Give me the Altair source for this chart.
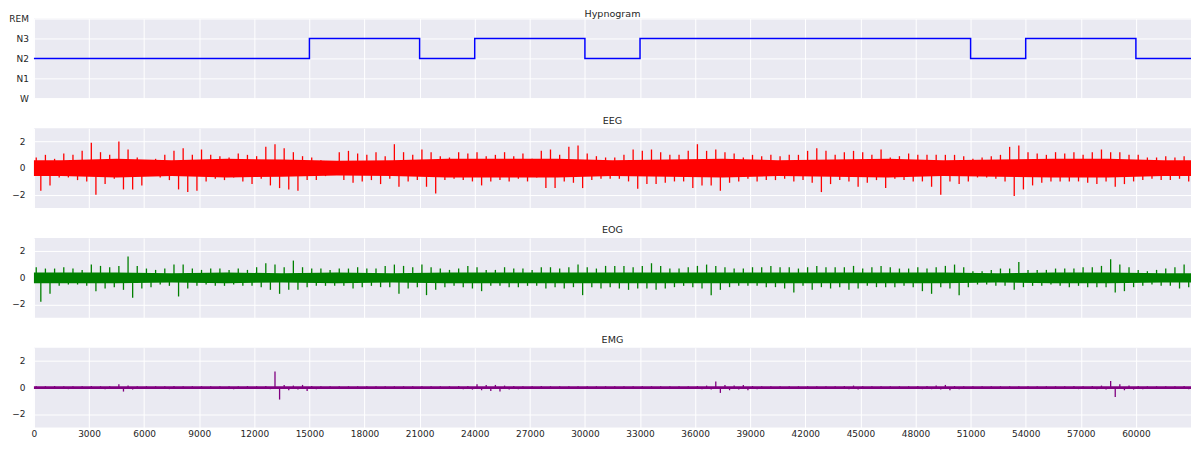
import altair as alt
import pandas as pd

STAGES = ["W", "N1", "N2", "N3", "REM"]
HYPNOGRAM = ["N2", "N2", "N2", "N2", "N2", "N3", "N3", "N2", "N3", "N3", "N2",
             "N3", "N3", "N3", "N3", "N3", "N3", "N2", "N3", "N3", "N2"]
EPOCH = 3000
BIN = 500
X_TICKS = [0, 3000, 6000, 9000, 12000, 15000, 18000, 21000, 24000, 27000, 30000,
           33000, 36000, 39000, 42000, 45000, 48000, 51000, 54000, 57000, 60000]
SIG_TICKS = [-2, 0, 2]

# per-500-sample peak (hi) / trough (lo)
EEG_HI = [0.8, 1.0, 0.7, 1.1, 1.0, 1.3, 1.9, 1.2, 1.0, 2.0,
          1.4, 0.8, 0.6, 0.7, 1.0, 1.3, 1.5, 1.0, 1.4, 1.0,
          0.9, 0.8, 1.1, 1.0, 0.9, 1.6, 1.8, 1.5, 1.2, 0.9,
          0.8, 0.6, 0.5, 1.2, 1.3, 1.1, 1.0, 1.2, 0.9, 1.8,
          1.2, 1.0, 1.4, 1.2, 0.9, 0.8, 1.2, 1.1, 1.2, 0.9,
          1.0, 1.2, 0.9, 1.1, 0.7, 1.3, 1.4, 1.0, 1.6, 1.7,
          1.1, 0.9, 0.8, 0.8, 1.0, 1.4, 1.3, 1.4, 1.2, 1.0,
          1.0, 1.3, 1.8, 1.3, 1.4, 1.2, 1.1, 0.8, 1.0, 0.9,
          1.0, 0.9, 1.0, 1.0, 1.3, 1.5, 1.3, 1.0, 1.2, 1.3,
          1.2, 1.0, 1.4, 0.8, 0.9, 1.1, 1.0, 1.0, 1.0, 1.0,
          1.0, 0.9, 0.7, 0.8, 0.9, 1.0, 1.6, 1.7, 1.2, 1.1,
          1.0, 1.2, 1.1, 1.2, 1.0, 1.2, 1.4, 1.2, 1.2, 1.0,
          1.0, 0.8, 0.8, 0.9, 0.8, 0.9]
EEG_LO = [-1.7, -1.3, -0.7, -0.7, -0.9, -1.0, -2.0, -1.2, -0.8, -1.6,
          -1.6, -1.3, -0.6, -0.7, -0.9, -1.6, -1.8, -1.7, -1.0, -0.8,
          -0.9, -0.7, -1.0, -1.2, -0.8, -1.3, -1.5, -1.6, -1.7, -0.9,
          -0.9, -0.6, -0.5, -0.9, -1.1, -1.0, -0.9, -1.2, -0.8, -1.4,
          -1.0, -0.9, -1.4, -1.9, -0.9, -0.8, -0.9, -1.0, -1.3, -1.0,
          -0.9, -1.0, -0.8, -1.0, -0.7, -1.5, -1.5, -1.0, -1.1, -1.5,
          -0.9, -0.8, -0.8, -0.8, -1.0, -1.55, -1.2, -1.2, -1.1, -1.0,
          -1.0, -1.5, -1.3, -1.3, -1.7, -1.1, -1.0, -0.8, -1.0, -0.9,
          -0.9, -0.8, -1.0, -0.9, -1.1, -1.8, -1.2, -0.9, -1.0, -1.4,
          -1.1, -0.9, -1.5, -0.8, -0.9, -1.0, -1.0, -1.4, -2.0, -1.0,
          -1.2, -1.0, -0.7, -0.7, -0.8, -1.0, -2.1, -1.6, -1.3, -1.1,
          -1.0, -1.0, -1.0, -1.0, -1.1, -1.2, -1.0, -1.4, -1.2, -1.0,
          -0.9, -0.8, -0.9, -0.9, -0.8, -1.0]
EEG_CORE = [0.6, 0.7, 0.6, 0.7, 0.65, 0.55, 0.6, 0.7, 0.7, 0.7, 0.6,
            0.65, 0.7, 0.6, 0.65, 0.7, 0.6, 0.65, 0.7, 0.7, 0.6]

EOG_HI = [0.8, 0.7, 0.7, 0.8, 0.7, 0.6, 1.0, 0.9, 0.8, 0.9,
          1.6, 0.9, 0.7, 0.6, 0.7, 1.0, 1.0, 0.7, 0.6, 0.7,
          0.7, 0.6, 0.7, 0.6, 0.8, 1.1, 1.0, 0.8, 1.3, 0.8,
          0.7, 0.7, 0.6, 0.7, 0.7, 0.8, 0.7, 0.7, 0.9, 1.0,
          0.9, 0.8, 1.0, 0.8, 0.7, 0.6, 0.7, 0.9, 0.8, 0.6,
          0.6, 0.8, 0.7, 0.7, 0.6, 0.8, 0.8, 0.7, 0.8, 1.0,
          0.8, 0.7, 0.9, 0.9, 0.9, 0.8, 0.9, 1.1, 0.9, 0.7,
          0.7, 0.8, 0.9, 1.0, 0.9, 0.8, 0.7, 0.7, 0.8, 0.8,
          0.9, 0.8, 0.8, 0.7, 0.8, 0.9, 0.8, 0.8, 0.8, 0.9,
          0.7, 0.8, 0.9, 0.8, 0.7, 0.7, 0.8, 0.7, 0.8, 0.9,
          1.0, 0.8, 0.5, 0.5, 0.6, 0.7, 0.7, 1.2, 0.6, 0.6,
          0.6, 0.7, 0.7, 0.7, 0.8, 0.8, 0.9, 1.4, 1.0, 0.8,
          0.6, 0.5, 0.6, 0.7, 0.8, 1.0]
EOG_LO = [-1.8, -1.2, -0.6, -0.5, -0.5, -0.6, -1.0, -0.8, -0.7, -0.9,
          -1.5, -0.8, -0.7, -0.5, -0.6, -1.4, -0.8, -0.6, -0.5, -0.6,
          -0.6, -0.5, -0.6, -0.6, -0.7, -0.9, -1.2, -0.9, -0.9, -0.7,
          -0.6, -0.6, -0.6, -0.6, -0.8, -0.7, -0.6, -0.7, -0.7, -1.2,
          -0.8, -0.7, -1.3, -0.9, -0.7, -0.6, -0.7, -0.8, -1.0, -0.6,
          -0.6, -0.7, -0.7, -0.6, -0.6, -0.8, -0.7, -0.8, -0.7, -1.3,
          -0.7, -0.8, -0.7, -0.8, -0.9, -0.8, -0.8, -0.9, -0.8, -0.7,
          -0.6, -0.7, -0.8, -1.3, -0.9, -0.7, -0.6, -0.6, -0.6, -0.7,
          -0.7, -0.8, -1.1, -0.6, -0.9, -0.7, -0.8, -0.7, -0.9, -0.8,
          -0.6, -0.7, -0.7, -0.7, -0.6, -0.7, -1.0, -1.2, -0.7, -0.8,
          -1.3, -0.7, -0.5, -0.5, -0.6, -0.6, -0.9, -0.7, -0.6, -0.6,
          -0.5, -0.6, -0.7, -0.6, -0.7, -0.7, -0.7, -1.1, -1.0, -0.7,
          -0.6, -0.5, -0.6, -0.6, -0.8, -0.7]
EOG_CORE = [0.4, 0.4, 0.35, 0.4, 0.35, 0.4, 0.35, 0.4, 0.4, 0.4, 0.4,
            0.4, 0.4, 0.4, 0.4, 0.4, 0.4, 0.35, 0.4, 0.4, 0.35]

EMG_HI = [0.1, 0.1, 0.12, 0.1, 0.1, 0.1, 0.12, 0.1, 0.1, 0.25,
          0.15, 0.1, 0.1, 0.1, 0.1, 0.12, 0.1, 0.1, 0.1, 0.1,
          0.1, 0.1, 0.1, 0.12, 0.1, 0.12, 1.2, 0.2, 0.15, 0.2,
          0.12, 0.1, 0.1, 0.1, 0.1, 0.1, 0.1, 0.1, 0.1, 0.1,
          0.1, 0.1, 0.1, 0.1, 0.1, 0.1, 0.12, 0.12, 0.25, 0.2,
          0.2, 0.15, 0.12, 0.1, 0.1, 0.12, 0.1, 0.1, 0.1, 0.1,
          0.1, 0.1, 0.1, 0.1, 0.1, 0.1, 0.1, 0.1, 0.1, 0.1,
          0.1, 0.1, 0.12, 0.15, 0.45, 0.2, 0.15, 0.2, 0.12, 0.1,
          0.1, 0.1, 0.1, 0.1, 0.1, 0.1, 0.1, 0.1, 0.12, 0.15,
          0.1, 0.1, 0.1, 0.1, 0.1, 0.1, 0.12, 0.12, 0.15, 0.2,
          0.12, 0.1, 0.1, 0.1, 0.1, 0.1, 0.1, 0.1, 0.1, 0.1,
          0.1, 0.1, 0.1, 0.12, 0.1, 0.12, 0.15, 0.5, 0.25, 0.15,
          0.12, 0.1, 0.1, 0.1, 0.1, 0.12]
EMG_LO = [-0.1, -0.1, -0.1, -0.12, -0.1, -0.1, -0.1, -0.12, -0.1, -0.3,
          -0.15, -0.1, -0.1, -0.1, -0.12, -0.1, -0.1, -0.1, -0.1, -0.1,
          -0.1, -0.12, -0.1, -0.1, -0.1, -0.12, -0.9, -0.2, -0.15, -0.25,
          -0.12, -0.1, -0.1, -0.1, -0.1, -0.1, -0.1, -0.1, -0.1, -0.1,
          -0.1, -0.1, -0.1, -0.1, -0.1, -0.1, -0.12, -0.15, -0.2, -0.25,
          -0.3, -0.15, -0.12, -0.1, -0.1, -0.1, -0.1, -0.1, -0.1, -0.1,
          -0.1, -0.1, -0.1, -0.1, -0.1, -0.1, -0.1, -0.1, -0.1, -0.1,
          -0.1, -0.1, -0.12, -0.15, -0.4, -0.2, -0.15, -0.2, -0.12, -0.1,
          -0.1, -0.1, -0.1, -0.1, -0.1, -0.1, -0.1, -0.1, -0.12, -0.15,
          -0.1, -0.1, -0.1, -0.1, -0.1, -0.1, -0.12, -0.12, -0.15, -0.2,
          -0.12, -0.1, -0.1, -0.1, -0.1, -0.1, -0.1, -0.1, -0.1, -0.1,
          -0.1, -0.1, -0.1, -0.12, -0.1, -0.12, -0.15, -0.7, -0.2, -0.15,
          -0.12, -0.1, -0.1, -0.1, -0.1, -0.12]
EMG_CORE = [0.1, 0.1, 0.1, 0.1, 0.1, 0.1, 0.1, 0.1, 0.1, 0.1, 0.1,
            0.1, 0.1, 0.1, 0.1, 0.1, 0.1, 0.1, 0.1, 0.1, 0.1]

FONT = "DejaVu Sans"
TXT = "#262626"
W = 1160
H = 80
XMAX = EPOCH * len(HYPNOGRAM)


def spikes(hi, lo):
    rows = []
    for k, (h, l) in enumerate(zip(hi, lo)):
        rows.append({"x": k * BIN + BIN * 0.25, "a": 0.0, "b": h})
        rows.append({"x": k * BIN + BIN * 0.75, "a": l, "b": 0.0})
    return pd.DataFrame(rows)


def core_band(core):
    # core amplitude per epoch, placed at epoch centres, held flat to both ends
    rows = [{"x": 0, "lo": -core[0], "hi": core[0]}]
    for e, c in enumerate(core):
        rows.append({"x": e * EPOCH + EPOCH / 2, "lo": -c, "hi": c})
    rows.append({"x": XMAX, "lo": -core[-1], "hi": core[-1]})
    return pd.DataFrame(rows)


def tick_text(v):
    return ("\u2212" if v < 0 else "") + str(abs(v))


xscale = alt.Scale(domain=[0, XMAX], nice=False, zero=False)


def x_axis(bottom):
    if bottom:
        return alt.Axis(values=X_TICKS, format="d", title=None, labelPadding=2,
                        labelFlush=False, labelOverlap=False, grid=True,
                        ticks=False, domain=False)
    return alt.Axis(values=X_TICKS, labels=False, title=None, grid=True,
                    ticks=False, domain=False, minExtent=0, maxExtent=0)


def title(t, offset):
    return alt.TitleParams(t, fontSize=9.6, font=FONT, color=TXT, fontWeight="normal",
                           offset=offset, anchor="middle")


# hypnogram
hyp_rows = [{"x": e * EPOCH, "s": STAGES.index(s)} for e, s in enumerate(HYPNOGRAM)]
hyp_rows.append({"x": XMAX, "s": STAGES.index(HYPNOGRAM[-1])})
hyp_df = pd.DataFrame(hyp_rows)
stage_expr = "[" + ",".join("'%s'" % s for s in STAGES) + "][datum.value]"

hyp = alt.Chart(hyp_df).mark_line(interpolate="step-after", color="#0000ff",
                                   strokeWidth=1.5).encode(
    x=alt.X("x:Q", scale=xscale, axis=x_axis(False)),
    y=alt.Y("s:Q", scale=alt.Scale(domain=[0, len(STAGES) - 1], nice=False),
            axis=alt.Axis(values=list(range(len(STAGES))), labelExpr=stage_expr,
                          title=None, labelPadding=5.5, minExtent=25, maxExtent=25,
                          grid=True, ticks=False, domain=False, labelOverlap=False)),
).properties(width=W, height=H, title=title("Hypnogram", -4))


def signal(name, hi, lo, core, color, bottom):
    yscale = alt.Scale(domain=[-3, 3], nice=False)
    band = alt.Chart(core_band(core)).mark_area(color=color, opacity=1).encode(
        x=alt.X("x:Q", scale=xscale, axis=x_axis(bottom)),
        y=alt.Y("lo:Q", scale=yscale,
                axis=alt.Axis(values=SIG_TICKS, labels=False, title=None,
                              minExtent=25, maxExtent=25, grid=True, ticks=False,
                              domain=False)),
        y2="hi:Q",
    )
    rules = alt.Chart(spikes(hi, lo)).mark_rule(color=color, strokeWidth=1.3).encode(
        x=alt.X("x:Q", scale=xscale),
        y=alt.Y("a:Q", scale=yscale),
        y2="b:Q",
    )
    lab_df = pd.DataFrame({"v": SIG_TICKS, "t": [tick_text(v) for v in SIG_TICKS]})
    labels = alt.Chart(lab_df).mark_text(align="right", baseline="middle", font=FONT,
                                         fontSize=9, color=TXT).encode(
        x=alt.value(-8.5),
        y=alt.Y("v:Q", scale=yscale),
        text="t:N",
    )
    return alt.layer(band, rules, labels).properties(width=W, height=H,
                                                      title=title(name, 3))


chart = alt.vconcat(
    hyp,
    signal("EEG", EEG_HI, EEG_LO, EEG_CORE, "#ff0000", False),
    signal("EOG", EOG_HI, EOG_LO, EOG_CORE, "#008000", False),
    signal("EMG", EMG_HI, EMG_LO, EMG_CORE, "#800080", True),
    spacing=30,
    bounds="flush",
).configure(
    padding={"top": 0, "left": 0, "right": -2, "bottom": 0},
    background="white",
).configure_view(
    fill="#eaeaf2", stroke=None,
).configure_axis(
    labelFont=FONT, labelFontSize=9, labelColor=TXT, gridColor="white",
    gridWidth=1, gridOpacity=1,
)

chart.save("out.html", embed_options={"renderer": "svg", "actions": False})
